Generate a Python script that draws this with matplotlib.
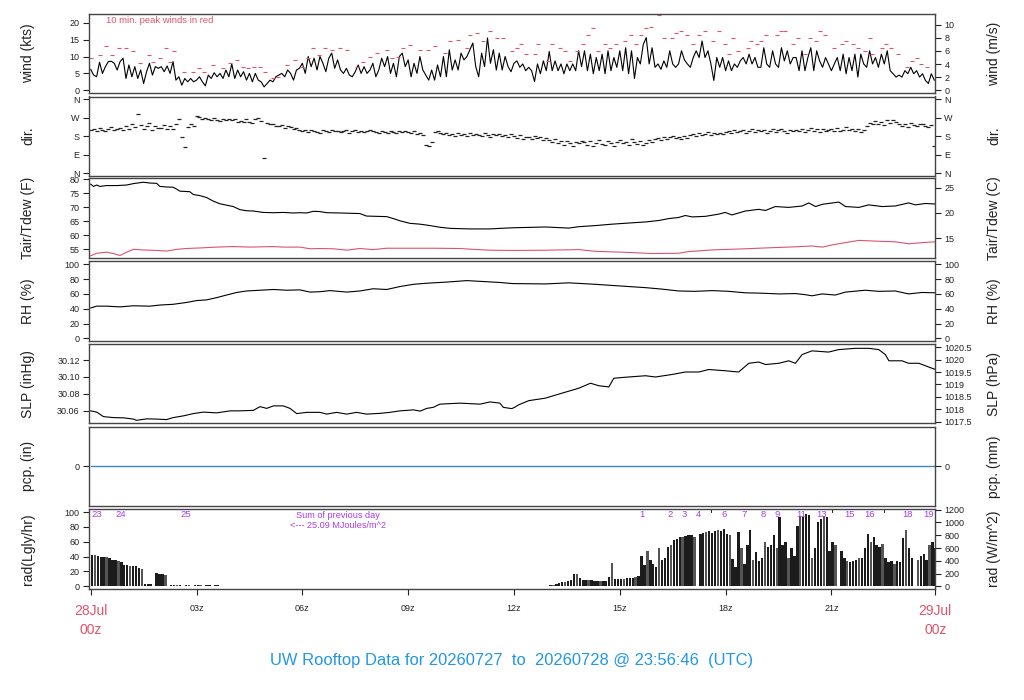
import numpy as np
import matplotlib
matplotlib.use("Agg")
import matplotlib.pyplot as plt
from matplotlib.transforms import blended_transform_factory

plt.rcParams['font.family'] = ['Liberation Sans', 'DejaVu Sans']

# ------------------------------------------------------------------ data
# 5-minute wind speed (kts), 288 values, 00z..23:55z
wind_kts = [
    6.2, 4.5, 4.0, 8.3, 5.0, 7.0, 8.5, 8.6, 8.0, 6.0, 8.5, 9.5,
    3.5, 7.5, 4.0, 7.0, 3.5, 6.0, 2.0, 5.5, 8.0, 4.5, 7.0, 6.5,
    7.0, 5.5, 7.2, 5.0, 8.5, 3.0, 4.0, 1.5, 3.5, 2.5, 3.5, 2.5,
    3.0, 4.0, 2.5, 1.3, 4.5, 3.5, 5.2, 4.0, 5.0, 3.5, 6.0, 4.0,
    7.8, 3.5, 6.0, 4.0, 5.5, 3.0, 5.0, 2.5, 5.0, 3.0, 2.5, 1.0,
    2.0, 3.0, 2.5, 4.0, 4.5, 5.0, 4.0, 6.0, 5.0, 3.0, 6.0, 6.5,
    8.0, 5.0, 10.0, 7.0, 9.5, 6.0, 10.0, 8.0, 5.5, 9.5, 11.0, 6.5,
    9.0, 6.0, 5.0, 6.5, 4.5, 4.0, 5.5, 7.5, 5.0, 7.0, 5.0, 6.0,
    8.0, 4.0, 6.0, 9.5, 7.0, 10.0, 5.0, 8.0, 4.0, 10.0, 11.0, 7.0,
    9.0, 4.0, 8.0, 5.0, 10.0, 6.0, 4.5, 3.0, 6.0, 3.0, 7.5, 4.0,
    10.0, 4.0, 12.0, 6.0, 9.0, 6.0, 11.0, 9.0, 10.0, 12.0, 14.0, 7.0,
    4.0, 11.0, 7.0, 15.5, 8.0, 12.0, 6.0, 11.0, 6.0, 10.0, 7.0, 5.5,
    8.0, 8.7, 6.8, 7.8, 5.8, 6.8, 5.8, 2.6, 7.8, 4.9, 8.7, 5.8,
    11.5, 5.8, 8.7, 5.8, 7.8, 4.9, 7.8, 5.8, 7.8, 5.8, 11.7, 7.0,
    11.7, 5.8, 10.7, 4.9, 9.7, 5.8, 10.7, 4.9, 11.7, 5.8, 9.7, 6.8,
    11.7, 5.8, 12.6, 4.9, 11.7, 3.5, 9.7, 7.8, 13.6, 15.6, 7.8, 12.6,
    6.8, 7.8, 6.2, 8.7, 6.8, 11.7, 7.8, 6.8, 7.8, 11.7, 9.0, 7.8,
    6.8, 9.7, 11.7, 9.7, 14.6, 9.7, 11.7, 7.8, 2.9, 9.7, 6.8, 9.7,
    5.8, 8.7, 5.8, 7.8, 6.8, 8.7, 9.7, 7.8, 10.7, 7.8, 9.7, 6.8,
    6.8, 12.6, 7.8, 6.8, 11.7, 7.8, 6.8, 12.6, 8.7, 11.7, 7.8, 9.7,
    9.7, 5.8, 11.7, 5.8, 9.7, 12.6, 5.8, 11.7, 8.7, 6.8, 9.7, 7.8,
    5.8, 7.8, 9.7, 5.8, 10.7, 4.9, 9.7, 5.8, 10.7, 3.9, 10.7, 7.8,
    6.8, 11.7, 7.8, 9.7, 6.8, 10.7, 7.8, 11.7, 5.8, 4.9, 3.9, 4.5,
    3.9, 5.8, 4.9, 6.8, 4.9, 5.8, 3.9, 4.9, 2.9, 2.0, 4.9, 3.0,
]

# 10-min peak winds (red dashes): time (h) and speed (kts)
peak_hr = [
    0.00, 0.26, 0.43, 0.60, 0.81, 1.00, 1.21, 1.40, 1.64, 1.78, 1.96, 2.13,
    2.25, 2.37, 2.64, 2.91, 3.07, 3.21, 3.48, 3.76, 3.95, 4.16, 4.33, 4.47,
    4.63, 4.80, 4.94, 5.18, 5.32, 5.56, 5.79, 5.98, 6.17, 6.31, 6.48, 6.64,
    6.83, 7.07, 7.26, 7.54, 7.73, 7.92, 8.11, 8.39, 8.53, 8.72, 8.86, 9.05,
    9.34, 9.57, 9.76, 10.05, 10.19, 10.42, 10.66, 10.75, 10.94, 11.13, 11.32,
    11.51, 11.70,
    11.95, 12.09, 12.21, 12.35, 12.61, 12.67, 12.96, 13.08, 13.30, 13.44,
    13.60, 13.80, 13.97, 14.09, 14.25, 14.38, 14.57, 14.73, 14.90, 15.16,
    15.33, 15.47, 15.61, 15.75, 15.88, 16.12, 16.26, 16.48, 16.60, 16.75,
    16.92, 17.07, 17.24, 17.41, 17.64, 17.82, 17.97, 18.09, 18.20, 18.34,
    18.64, 18.73, 18.89, 19.00, 19.16, 19.47, 19.58, 19.68, 19.90, 20.05,
    20.26, 20.40, 20.55, 20.69, 20.83, 21.07, 21.30, 21.40, 21.62, 21.75,
    21.94, 22.09, 22.15, 22.44, 22.56, 22.70, 22.88, 23.15, 23.29, 23.43,
    23.54, 23.71,
]
peak_kts = [
    9.5, 10.5, 13.0, 10.5, 12.5, 12.5, 11.5, 8.0, 10.5, 8.5, 9.5, 12.5,
    8.5, 11.5, 5.5, 5.5, 6.5, 5.5, 7.5, 6.5, 8.0, 9.0, 7.0, 6.5,
    7.0, 7.0, 5.5, 3.5, 4.0, 7.5, 9.0, 7.0, 9.5, 12.5, 10.5, 12.5,
    12.0, 12.5, 12.0, 7.0, 8.5, 10.0, 11.0, 12.0, 9.5, 10.0, 12.5, 13.5,
    12.0, 12.0, 13.0, 11.0, 14.5, 15.0, 12.5, 16.5, 17.0, 14.5, 17.5,
    15.5, 15.5,
    11.7, 12.6, 13.6, 10.7, 10.7, 13.6, 8.7, 13.6, 12.6, 11.7,
    8.7, 11.7, 13.6, 16.5, 18.5, 11.7, 13.6, 12.6, 13.6, 14.6,
    16.5, 13.6, 16.5, 18.5, 18.7, 22.4, 15.6, 15.6, 17.0, 17.5,
    16.5, 13.6, 16.5, 17.5, 14.6, 17.5, 13.6, 10.7, 15.6, 11.7,
    12.6, 14.6, 13.6, 14.6, 16.5, 16.5, 17.5, 17.5, 13.6, 15.6,
    10.7, 15.6, 14.6, 17.5, 16.5, 12.6, 13.6, 14.6, 13.6, 12.6,
    11.7, 15.6, 10.7, 12.6, 13.6, 12.6, 10.7, 6.8, 8.7, 9.7,
    7.8, 6.8,
]

# 5-minute wind direction (deg), 288 values
dir_deg = [
    210, 215, 205, 220, 212, 208, 218, 225, 210, 215, 222, 212,
    230, 218, 240, 225, 287, 235, 215, 228, 245, 210, 232, 220,
    222, 235, 215, 230, 218, 240, 266, 177, 128, 225, 238, 230,
    280, 275, 262, 270, 265, 258, 268, 260, 255, 262, 258, 265,
    258, 262, 250, 255, 248, 265, 252, 245, 262, 268, 255, 76,
    245, 238, 240, 232, 228, 235, 222, 230, 225, 218, 222, 212,
    205, 210, 200, 212, 208, 202, 195, 210, 205, 200, 212, 206,
    208, 200, 205, 210, 198, 206, 212, 202, 208, 200, 204, 210,
    205, 200, 198, 206, 202, 195, 208, 200, 197, 204, 199, 205,
    200, 195, 205, 190, 198, 188, 140, 135, 150, 200, 205, 195,
    190, 198, 185, 192, 180, 195, 188, 190, 182, 196, 186, 192,
    188, 182, 195, 185, 178, 190, 184, 192, 180, 186, 178, 190,
    180, 172, 185, 168, 178, 175, 165, 182, 170, 176, 162, 172,
    160, 150, 165, 145, 155, 140, 158, 148, 135, 152, 145, 155,
    150, 140, 158, 135, 148, 160, 142, 138, 155, 145, 132, 150,
    160, 145, 152, 138, 165, 150, 142, 158, 136, 148, 162, 150,
    165, 172, 160, 178, 168, 175, 182, 170, 176, 165, 180, 172,
    185, 190, 180, 195, 188, 192, 200, 186, 195, 190, 198, 192,
    200, 205, 195, 210, 202, 208, 212, 198, 206, 215, 200, 210,
    205, 212, 198, 208, 215, 200, 210, 218, 204, 196, 212, 206,
    210, 205, 215, 200, 212, 220, 206, 214, 202, 218, 208, 212,
    215, 208, 220, 205, 212, 225, 210, 218, 206, 214, 200, 210,
    230, 245, 238, 255, 240, 250, 235, 258, 245, 260, 248, 240,
    232, 240, 225, 245, 235, 228, 238, 242, 230, 226, 235, 131,
]

# Air temperature (F)
tair_hr = [0.00, 0.08, 0.17, 0.26, 0.45, 0.74, 1.02, 1.21, 1.49, 1.68, 1.87, 1.96,
           2.15, 2.34, 2.44, 2.53, 2.81, 2.91, 3.10, 3.29, 3.48, 3.66, 3.85, 4.04,
           4.23, 4.42, 4.61, 4.89, 5.18, 5.46, 5.74, 5.93, 6.12, 6.31, 6.50, 6.69,
           7.07, 7.35, 7.63, 7.82, 8.10, 8.39, 8.58, 8.77, 9.05, 9.34, 9.62, 9.90,
           10.19, 10.47, 10.75, 11.04, 11.32, 11.60, 11.95, 12.89, 13.55, 13.84,
           14.31, 14.78, 15.25, 15.73, 16.10, 16.39, 16.67, 16.86, 17.05, 17.43,
           17.81, 17.99, 18.18, 18.56, 18.94, 19.13, 19.41, 19.79, 20.17, 20.36,
           20.55, 20.74, 21.21, 21.40, 21.78, 22.06, 22.44, 22.81, 23.19, 23.38,
           23.67, 23.95]
tair_f = [78.3, 77.5, 78.0, 77.5, 77.8, 77.8, 78.0, 78.5, 79.0, 78.7, 78.6, 77.5,
          77.3, 77.2, 76.5, 75.8, 75.6, 74.6, 74.2, 73.5, 72.2, 71.3, 70.8, 70.3,
          69.2, 68.8, 68.7, 68.2, 68.1, 68.2, 68.0, 68.1, 68.0, 68.6, 68.5, 68.1,
          68.0, 67.9, 67.8, 66.9, 66.8, 66.7, 66.0, 65.2, 64.3, 64.0, 63.5, 62.9,
          62.5, 62.4, 62.3, 62.3, 62.3, 62.5, 62.7, 63.0, 62.6, 63.1,
          63.5, 64.0, 64.4, 64.8, 65.3, 66.0, 66.4, 67.1, 66.6, 66.8,
          67.6, 68.2, 67.3, 68.7, 69.3, 68.9, 70.3, 70.0, 70.5, 71.6,
          70.3, 71.1, 71.9, 70.3, 70.0, 70.9, 70.3, 70.5, 71.6, 70.9,
          71.4, 71.2]

# Dew point (F)
tdew_hr = [0.00, 0.17, 0.45, 0.64, 0.83, 1.02, 1.21, 1.49, 1.87, 2.15, 2.44, 2.72,
           3.10, 3.57, 4.04, 4.52, 5.18, 5.46, 5.93, 6.22, 6.50, 6.88, 7.26, 7.63,
           8.01, 8.39, 8.77, 9.72, 10.47, 10.85, 11.32, 11.95, 12.89, 13.84, 14.31,
           15.25, 15.92, 16.67, 16.95, 17.62, 18.56, 19.32, 19.98, 20.45, 20.74,
           21.11, 21.40, 21.78, 22.34, 22.81, 23.19, 23.57, 23.95]
tdew_f = [52.7, 53.6, 54.0, 53.5, 52.8, 54.0, 55.0, 54.8, 54.6, 54.4, 55.0, 55.3,
          55.5, 55.8, 56.0, 55.8, 56.0, 55.8, 55.8, 55.2, 55.3, 55.2, 54.7, 55.3,
          54.9, 55.4, 55.4, 55.4, 55.3, 55.0, 54.7, 54.6, 54.7, 54.9, 54.3,
          53.9, 53.5, 53.6, 54.2, 54.8, 55.2, 55.6, 55.9, 56.2, 55.8,
          56.8, 57.4, 58.2, 57.9, 57.7, 57.0, 57.4, 57.7]

# Relative humidity (%)
rh_hr = [0.00, 0.17, 0.45, 0.83, 1.21, 1.68, 1.96, 2.34, 2.72, 3.00, 3.29, 3.57,
         3.85, 4.14, 4.42, 4.80, 5.18, 5.56, 5.93, 6.22, 6.50, 6.79, 7.26, 7.63,
         8.01, 8.39, 8.77, 9.15, 9.53, 10.09, 10.66, 11.04, 11.60, 11.95, 12.89,
         13.55, 14.31, 14.78, 15.25, 15.73, 16.20, 16.67, 17.14, 17.62, 18.09,
         18.56, 19.03, 19.51, 19.98, 20.26, 20.45, 20.74, 21.11, 21.40, 21.96,
         22.34, 22.81, 23.19, 23.57, 23.95]
rh_pct = [41, 43.5, 43.5, 42.5, 44, 43.5, 45, 46, 48.5, 51, 52, 55,
          58.5, 62, 64, 65, 66, 65, 65.5, 62.5, 63, 64.5, 62.5, 64,
          67, 66, 70, 73, 74.5, 76, 78, 77, 75.5, 74, 73.5,
          75, 73, 71.5, 70, 68.5, 66.5, 64, 63.5, 64.5, 63.5,
          61.5, 61, 60, 60.5, 59, 57.5, 60, 58.5, 62.5, 65,
          63.5, 64, 60, 62, 61.5]

# Sea-level pressure (hPa)
slp_hr = [0.00, 0.17, 0.36, 0.64, 0.93, 1.21, 1.30, 1.59, 1.87, 2.15, 2.34, 2.63,
          2.91, 3.19, 3.57, 3.95, 4.23, 4.61, 4.80, 4.99, 5.18, 5.46, 5.65, 5.84,
          6.12, 6.50, 6.69, 6.97, 7.26, 7.54, 7.82, 8.20, 8.48, 8.77, 9.15, 9.34,
          9.53, 9.71, 9.90, 10.47, 11.04, 11.32, 11.60, 11.70, 11.94,
          12.04, 12.13, 12.42, 12.89, 13.36, 13.84, 14.17, 14.40, 14.69, 14.83,
          15.25, 15.73, 16.01, 16.48, 16.86, 17.24, 17.52, 17.99, 18.37, 18.66,
          18.94, 19.13, 19.51, 19.79, 19.98, 20.17, 20.45, 20.92, 21.21, 21.68,
          22.06, 22.34, 22.53, 22.63, 23.00, 23.19, 23.48, 23.76, 23.95]
slp_hpa = [1017.94, 1017.89, 1017.71, 1017.67, 1017.66, 1017.61, 1017.56, 1017.62,
           1017.61, 1017.59, 1017.67, 1017.74, 1017.83, 1017.89, 1017.86, 1017.94,
           1017.94, 1017.96, 1018.11, 1018.04, 1018.14, 1018.14, 1018.04, 1017.83,
           1017.88, 1017.88, 1017.81, 1017.88, 1017.81, 1017.88, 1017.81, 1017.84,
           1017.88, 1017.94, 1017.98, 1017.93, 1018.04, 1018.08, 1018.21, 1018.25,
           1018.21, 1018.30, 1018.25, 1018.08, 1018.03,
           1018.10, 1018.18, 1018.35, 1018.45, 1018.65, 1018.85, 1019.05, 1018.95,
           1018.90, 1019.25, 1019.30, 1019.35, 1019.30, 1019.40, 1019.50, 1019.50,
           1019.60, 1019.55, 1019.50, 1019.85, 1019.90, 1019.80, 1019.85, 1019.95,
           1019.85, 1020.20, 1020.35, 1020.30, 1020.40, 1020.45, 1020.45, 1020.40,
           1020.20, 1019.95, 1019.95, 1019.85, 1019.85, 1019.70, 1019.60]

# Precipitation (in)
pcp_hr = [0.0, 23.946]
pcp_in = [0.0, 0.0]

# 5-minute solar radiation (W/m^2), 288 values
rad_wm2 = [
    490, 485, 480, 462, 460, 455, 448, 415, 405, 395, 385, 340,
    330, 325, 320, 315, 280, 270, 35, 35, 35, 0, 210, 200,
    190, 180, 0, 23, 23, 23, 20, 0, 18, 17, 0, 17,
    16, 17, 0, 17, 16, 0, 18, 16, 6, 6, 5, 6,
    5, 5, 5, 4, 0, 0, 0, 0, 0, 0, 0, 0,
    0, 0, 0, 0, 0, 0, 0, 0, 0, 0, 0, 0,
    0, 0, 0, 0, 0, 0, 0, 0, 0, 0, 0, 0,
    0, 0, 0, 0, 0, 0, 0, 0, 0, 0, 0, 0,
    0, 0, 0, 0, 0, 0, 0, 0, 0, 0, 0, 0,
    0, 0, 0, 0, 0, 0, 0, 0, 0, 0, 0, 0,
    0, 0, 0, 0, 0, 0, 0, 0, 0, 0, 0, 0,
    0, 0, 0, 0, 0, 0, 0, 0, 0, 0, 0, 0,
    0, 0, 0, 0, 0, 5, 5, 6, 8, 8, 10, 12,
    22, 25, 35, 45, 60, 75, 85, 100, 190, 200, 130, 100,
    105, 95, 100, 90, 85, 80, 80, 90, 150, 370, 120, 115,
    115, 120, 125, 130, 135, 140, 160, 480, 330, 560, 420, 350,
    300, 600, 420, 450, 620, 650, 720, 740, 780, 770, 790, 810,
    800, 780, 0, 820, 840, 850, 860, 840, 870, 880, 860, 900,
    820, 800, 430, 300, 850, 600, 350, 650, 880, 420, 540, 400,
    450, 700, 620, 650, 800, 600, 1080, 650, 700, 450, 600, 480,
    950, 1100, 1080, 1130, 1120, 450, 600, 1000, 1050, 1100, 1080, 550,
    700, 650, 0, 560, 450, 400, 380, 390, 420, 440, 450, 600,
    820, 700, 780, 650, 620, 660, 450, 380, 400, 350, 400, 380,
    750, 880, 600, 450, 0, 420, 480, 500, 420, 650, 700, 600,
]

# cumulative radiation labels (MJ/m^2) and their times
rad_sum_hr = [0.17, 0.86, 2.70, 15.64, 16.44, 16.83, 17.23, 17.96, 18.53, 19.07,
              19.46, 20.13, 20.72, 21.51, 22.07, 23.15, 23.75]
rad_sum_lbl = ['23', '24', '25', '1', '2', '3', '4', '6', '7', '8',
               '9', '11', '13', '15', '16', '18', '19']
rad_hidden_hr = [17.60, 21.03, 22.50]

xtick_hr = [0, 3, 6, 9, 12, 15, 18, 21, 23.946]
xtick_lbl = ['28Jul\n00z', '03z', '06z', '09z', '12z', '15z', '18z', '21z', '29Jul\n00z']

# ------------------------------------------------------------------ style
RED = '#DF536B'
BLUE = '#2297E6'
PURPLE = '#A93CF0'
FRAME = '#444444'
TXT = '#222222'
KT2MS = 0.514444
HPA_PER_INHG = 33.8639
WM2_PER_LY = 11.622

W, H = 1024, 700
fig = plt.figure(figsize=(W / 100, H / 100), dpi=100)
L, R = 88.7, 935.3
panels = [(14, 93.3), (96.5, 175.5), (178.3, 258.3), (261, 341.3),
          (344, 423.3), (426.7, 506), (509, 589)]
axes = []
for top, bot in panels:
    ax = fig.add_axes([L / W, 1 - bot / H, (R - L) / W, (bot - top) / H])
    ax.set_xlim(-0.057, 23.946)
    ax.set_xticks([])
    for s in ax.spines.values():
        s.set_color(FRAME)
        s.set_linewidth(1.0)
    ax.tick_params(axis='y', direction='out', length=4.5, width=0.8,
                   labelsize=6.5, pad=2, colors=TXT)
    axes.append(ax)


def sec(ax, fwd, inv, ticks, labels=None):
    s = ax.secondary_yaxis('right', functions=(fwd, inv))
    s.set_yticks(ticks)
    if labels is not None:
        s.set_yticklabels(labels)
    s.tick_params(axis='y', direction='out', length=4.5, width=0.8,
                  labelsize=6.5, pad=2, colors=TXT)
    s.spines['right'].set_visible(False)
    return s


t5 = np.arange(288) * 5.0 / 60.0
ident = (lambda v: v, lambda v: v)

# wind
ax = axes[0]
ax.plot(t5, wind_kts, color='black', lw=0.8)
ax.plot(peak_hr, peak_kts, ls='none', marker='_', ms=2.6, mew=0.8, color=RED)
ax.set_ylim(-0.9, 22.6)
ax.set_yticks([0, 5, 10, 15, 20])
sec(ax, lambda v: v * KT2MS, lambda v: v / KT2MS, [0, 2, 4, 6, 8, 10])
ax.text(0.43, 0.924, '10 min. peak winds in red', color=RED, fontsize=6.8,
        ha='left', va='center', transform=blended_transform_factory(ax.transData, ax.transAxes))

# direction
ax = axes[1]
ax.plot(t5, dir_deg, ls='none', marker='_', ms=2.4, mew=0.9, color='#222222')
ax.set_ylim(-11, 374)
dticks = [0, 90, 180, 270, 360]
dlbl = ['N', 'E', 'S', 'W', 'N']
ax.set_yticks(dticks)
ax.set_yticklabels(dlbl)
sec(ax, *ident, dticks, dlbl)

# temperature
ax = axes[2]
ax.plot(tair_hr, tair_f, color='black', lw=0.8)
ax.plot(tdew_hr, tdew_f, color=RED, lw=0.8)
ax.set_ylim(51.8, 80.4)
ax.set_yticks([55, 60, 65, 70, 75, 80])
sec(ax, lambda f: (f - 32) / 1.8, lambda c: c * 1.8 + 32, [15, 20, 25])

# RH
ax = axes[3]
ax.plot(rh_hr, rh_pct, color='black', lw=0.8)
ax.set_ylim(-4, 104.5)
ax.set_yticks([0, 20, 40, 60, 80, 100])
sec(ax, *ident, [0, 20, 40, 60, 80, 100])

# SLP
ax = axes[4]
ax.plot(slp_hr, np.array(slp_hpa) / HPA_PER_INHG, color='black', lw=0.8)
ax.set_ylim(30.045, 30.139)
ax.set_yticks([30.06, 30.08, 30.10, 30.12])
ax.set_yticklabels(['30.06', '30.08', '30.10', '30.12'])
hp = [1017.5, 1018, 1018.5, 1019, 1019.5, 1020, 1020.5]
sec(ax, lambda v: v * HPA_PER_INHG, lambda v: v / HPA_PER_INHG, hp,
    ['%g' % v for v in hp])

# precipitation
ax = axes[5]
ax.plot(pcp_hr, pcp_in, color='#3d85d0', lw=1.0)
ax.set_ylim(-1, 1)
ax.set_yticks([0])
sec(ax, lambda v: v * 25.4, lambda v: v / 25.4, [0])

# radiation
ax = axes[6]
rad_ly = np.array(rad_wm2) / WM2_PER_LY
cols = ['#555555' if i % 4 == 1 else '#1c1c1c' for i in range(288)]
ax.bar(t5, rad_ly, width=0.068, align='edge', color=cols, linewidth=0)
ax.set_ylim(-3.6, 104.2)
ax.set_yticks([0, 20, 40, 60, 80, 100])
sec(ax, lambda v: v * WM2_PER_LY, lambda v: v / WM2_PER_LY,
    [0, 200, 400, 600, 800, 1000, 1200])
bt = blended_transform_factory(ax.transData, ax.transAxes)
for hr, lb in zip(rad_sum_hr, rad_sum_lbl):
    ax.text(hr, 0.93, lb, color=PURPLE, fontsize=6.8, ha='center', va='center', transform=bt)
for hr in rad_hidden_hr:
    ax.plot([hr, hr], [0.965, 1.0], color=TXT, lw=0.7, transform=bt, clip_on=False)
ax.text(7.0, 0.925, 'Sum of previous day', color=PURPLE, fontsize=6.6,
        ha='center', va='center', transform=bt)
ax.text(7.0, 0.79, '<--- 25.09 MJoules/m^2', color=PURPLE, fontsize=6.6,
        ha='center', va='center', transform=bt)

ax.set_xticks(xtick_hr)
ax.set_xticklabels(xtick_lbl)
ax.tick_params(axis='x', direction='out', length=4.5, width=0.8,
               labelsize=6.5, pad=6, colors=TXT)
lbls = ax.get_xticklabels()
for i in (0, len(lbls) - 1):
    lbls[i].set_color(RED)
    lbls[i].set_fontsize(10)
    lbls[i].set_linespacing(1.45)

# axis labels
left_lbl = ['wind (kts)', 'dir.', 'Tair/Tdew (F)', 'RH (%)', 'SLP (inHg)', 'pcp. (in)', 'rad(Lgly/hr)']
right_lbl = ['wind (m/s)', 'dir.', 'Tair/Tdew (C)', 'RH (%)', 'SLP (hPa)', 'pcp. (mm)', 'rad (W/m^2)']
for (top, bot), ll, rl in zip(panels, left_lbl, right_lbl):
    yc = 1 - (top + bot) / 2 / H
    fig.text(28 / W, yc, ll, rotation=90, ha='center', va='center', fontsize=10, color=TXT)
    fig.text(994 / W, yc, rl, rotation=90, ha='center', va='center', fontsize=10, color=TXT)

fig.text(511 / W, 1 - 660 / H,
         'UW Rooftop Data for 20260727  to  20260728 @ 23:56:46  (UTC)',
         color=BLUE, fontsize=11.9, ha='center', va='center')

fig.savefig('out.png', dpi=100)
